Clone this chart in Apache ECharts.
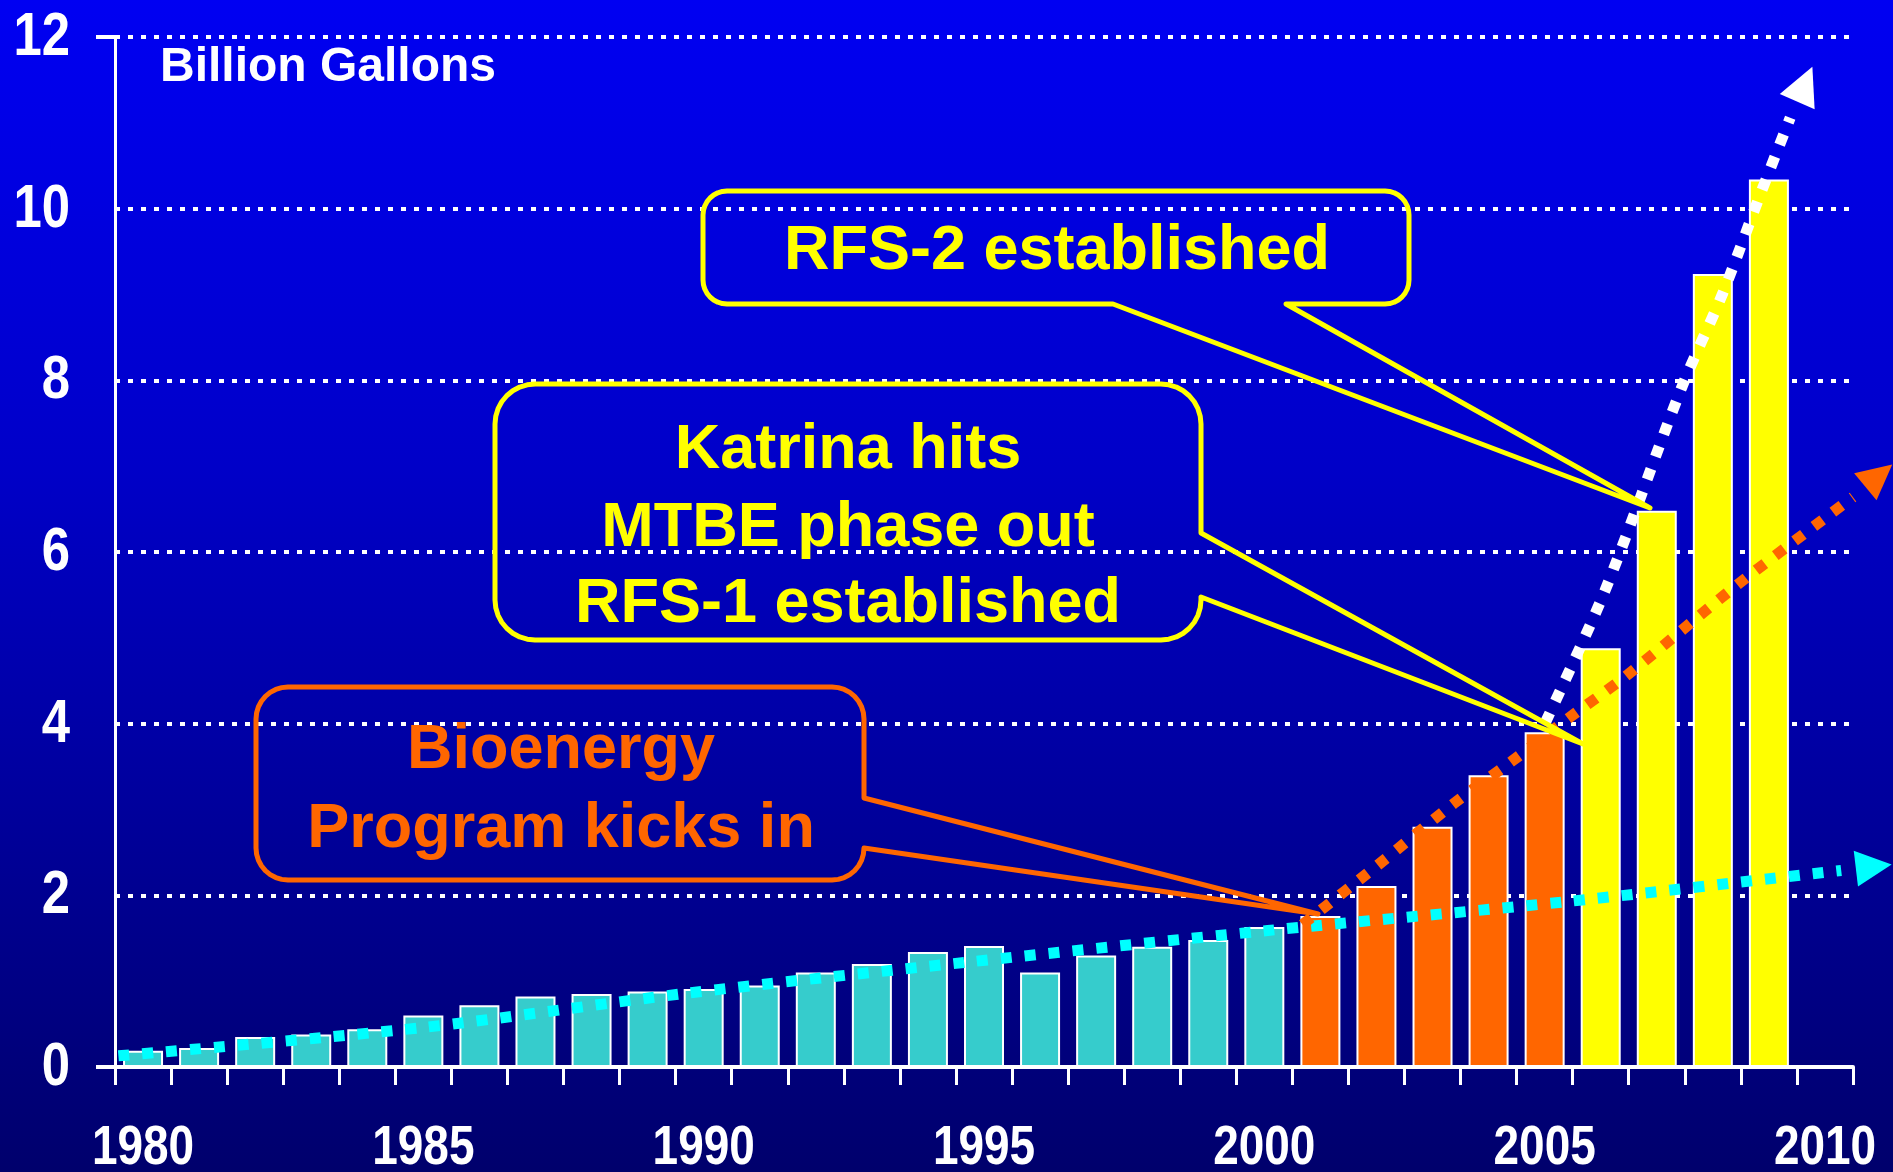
<!DOCTYPE html>
<html>
<head>
<meta charset="utf-8">
<script src="https://cdn.jsdelivr.net/npm/echarts@6/dist/echarts.min.js"></script>
<style>
  html, body { margin: 0; padding: 0; }
  #chart {
    width: 1893px;
    height: 1172px;
    background: linear-gradient(to bottom, #0000f2 0%, #0000c8 40%, #00006c 100%);
  }
</style>
</head>
<body>
<div id="chart"></div>
<script>
const years = [];
for (let y = 1980; y <= 2010; y++) years.push(String(y));

// US fuel ethanol production, billion gallons
const ethanol = [0.19, 0.22, 0.35, 0.38, 0.44, 0.60, 0.72, 0.82, 0.85, 0.88,
                 0.91, 0.95, 1.10, 1.20, 1.34, 1.41, 1.10, 1.30, 1.40, 1.48,
                 1.63, 1.76, 2.11, 2.80, 3.40, 3.90, 4.88, 6.48, 9.24, 10.34, null];

const bioenergyStart = 2001;
const rfsStart = 2006;

const yTicks = [0, 2, 4, 6, 8, 10, 12];
const xLabelYears = ['1980', '1985', '1990', '1995', '2000', '2005', '2010'];

// dotted trend arrows, in [band position, billion gallons]
const baseTrend = [[0.06, 0.13], [5.49, 0.46], [10.2, 0.86], [15.18, 1.22], [20.56, 1.59], [25.94, 1.93], [30.79, 2.29]];
const policyTrend = [[21.18, 1.66], [22.52, 2.35], [23.88, 3.07], [24.91, 3.56], [25.94, 4.07], [26.98, 4.57], [28.96, 5.63], [31.0, 6.64]];
const rfsTrend = [[25.51, 4.01], [26.57, 5.54], [27.94, 7.91], [28.68, 9.02], [29.36, 10.19], [29.88, 11.06]];
const arrowHeads = [[31.37, 2.335], [31.46, 6.89], [30.14, 11.45]];

const TEAL = '#36cccc';
const ORANGE = '#ff6600';
const YELLOW = '#ffff00';
const CYAN = '#00ffff';

const sans = "'Liberation Sans', Arial, sans-serif";
const NARROW = 0.82; // Arial Narrow is Arial squeezed to 82 %

function barColor(year) {
  const y = Number(year);
  if (y >= rfsStart) return YELLOW;
  if (y >= bioenergyStart) return ORANGE;
  return TEAL;
}

// rounded box with a speech-bubble tail
function bubble(x0, y0, x1, y1, r, side, t1, t2, apex) {
  const pts = [];
  const arc = (cx, cy, a0, a1) => {
    for (let i = 0; i <= 8; i++) {
      const a = a0 + (a1 - a0) * i / 8;
      pts.push([cx + r * Math.cos(a), cy + r * Math.sin(a)]);
    }
  };
  arc(x0 + r, y0 + r, Math.PI, 1.5 * Math.PI);
  arc(x1 - r, y0 + r, 1.5 * Math.PI, 2 * Math.PI);
  if (side === 'right') pts.push([x1, t1], apex, [x1, t2]);
  arc(x1 - r, y1 - r, 0, 0.5 * Math.PI);
  if (side === 'bottom') pts.push([t2, y1], apex, [t1, y1]);
  arc(x0 + r, y1 - r, 0.5 * Math.PI, Math.PI);
  return pts;
}

function label(text, x, y, color, size) {
  return {
    type: 'text', z: 110, x: x, y: y + 5,
    style: { text: text, fill: color, font: 'bold ' + size + 'px ' + sans, align: 'center', verticalAlign: 'middle' }
  };
}

function narrowText(text, x, y, size, align) {
  return {
    type: 'text', z: 60, x: x, y: y, scaleX: NARROW,
    style: { text: text, fill: '#fff', font: 'bold ' + size + 'px ' + sans, align: align, verticalAlign: 'middle' }
  };
}

const chart = echarts.init(document.getElementById('chart'));

function trend(data, color) {
  return {
    type: 'line', xAxisIndex: 1, data: data, smooth: 0.3, symbol: 'none', clip: false, z: 5,
    lineStyle: { color: color, width: 11, type: [11, 13], cap: 'butt' },
    silent: true
  };
}

const option = {
  backgroundColor: 'transparent',
  animation: false,
  grid: { left: 115, right: 40, top: 37, bottom: 105, outerBoundsMode: 'none', containLabel: false },
  xAxis: [{
    type: 'category',
    data: years,
    boundaryGap: true,
    axisLine: { lineStyle: { color: '#fff', width: 4 } },
    axisTick: { show: true, interval: 0, length: 18, lineStyle: { color: '#fff', width: 3 } },
    axisLabel: { show: false },
    splitLine: { show: false }
  }, {
    type: 'value', min: 0, max: years.length, show: false
  }],
  yAxis: {
    type: 'value',
    min: yTicks[0], max: yTicks[yTicks.length - 1], interval: 2,
    axisLine: { show: true, lineStyle: { color: '#fff', width: 3 } },
    axisTick: { show: false },
    axisLabel: { show: false },
    splitLine: { show: true, lineStyle: { color: '#fff', width: 4, type: [5, 8] } }
  },
  series: [
    {
      type: 'bar',
      barWidth: 40,
      z: 2,
      data: ethanol.map((v, i) => ({ value: v, itemStyle: { color: barColor(years[i]) } })),
      itemStyle: { borderColor: '#fff', borderWidth: 2 }
    },
    trend(baseTrend, CYAN),
    trend(policyTrend, ORANGE),
    trend(rfsTrend, '#ffffff')
  ]
};

chart.setOption(option);

// arrow heads pointing along the end of each trend
const trendEnds = [baseTrend, policyTrend, rfsTrend].map(t => t[t.length - 1]);
const arrowColors = [CYAN, ORANGE, '#ffffff'];
const arrowSizes = [36, 35, 38];
const arrowSeries = arrowHeads.map((pt, i) => {
  const a = chart.convertToPixel({ xAxisIndex: 1, yAxisIndex: 0 }, trendEnds[i]);
  const b = chart.convertToPixel({ xAxisIndex: 1, yAxisIndex: 0 }, pt);
  const ang = Math.atan2(a[1] - b[1], b[0] - a[0]) * 180 / Math.PI;
  return {
    type: 'scatter', xAxisIndex: 1, data: [pt], symbol: 'triangle', symbolSize: arrowSizes[i],
    symbolRotate: ang - 90, clip: false, z: 6, silent: true,
    itemStyle: { color: arrowColors[i], opacity: 1 }
  };
});

// axis labels in a narrow bold face, placed on the axis scales
const axisX = chart.convertToPixel({ yAxisIndex: 0 }, 0);
const axisLeft = chart.convertToPixel({ xAxisIndex: 1 }, 0);
const tickLabels = [];
yTicks.forEach(v => {
  const py = chart.convertToPixel({ yAxisIndex: 0 }, v);
  tickLabels.push(narrowText(String(v), axisLeft - 45, py + 1, 62, 'right'));
});
xLabelYears.forEach(yr => {
  const px = chart.convertToPixel({ xAxisIndex: 0 }, yr);
  tickLabels.push(narrowText(yr, px, axisX + 82, 56, 'center'));
});
const axisTop = chart.convertToPixel({ yAxisIndex: 0 }, yTicks[yTicks.length - 1]);

const graphic = tickLabels.concat([
  { type: 'line', z: 50, shape: { x1: axisLeft - 19, y1: axisTop, x2: axisLeft + 1, y2: axisTop }, style: { stroke: '#fff', lineWidth: 4 } },
  { type: 'line', z: 50, shape: { x1: axisLeft - 19, y1: axisX, x2: axisLeft + 1, y2: axisX }, style: { stroke: '#fff', lineWidth: 4 } },
  {
    type: 'text', z: 110, x: 160, y: 68,
    style: { text: 'Billion Gallons', fill: '#fff', font: 'bold 48px ' + sans, align: 'left', verticalAlign: 'middle' }
  },
  {
    type: 'polygon', z: 100,
    shape: { points: bubble(703, 191, 1409, 304, 24, 'bottom', 1113, 1286, [1650, 508]) },
    style: { fill: 'none', stroke: YELLOW, lineWidth: 5, lineJoin: 'round' }
  },
  label('RFS-2 established', 1057, 247, YELLOW, 63),
  {
    type: 'polygon', z: 100,
    shape: { points: bubble(495, 384, 1201, 640, 40, 'right', 533, 597, [1583, 744]) },
    style: { fill: 'none', stroke: YELLOW, lineWidth: 5, lineJoin: 'round' }
  },
  label('Katrina hits', 848, 446, YELLOW, 63),
  label('MTBE phase out', 848, 524, YELLOW, 63),
  label('RFS-1 established', 848, 600, YELLOW, 63),
  {
    type: 'polygon', z: 100,
    shape: { points: bubble(256, 687, 864, 880, 32, 'right', 798, 848, [1318, 914]) },
    style: { fill: 'none', stroke: ORANGE, lineWidth: 5, lineJoin: 'round' }
  },
  label('Bioenergy', 561, 746, ORANGE, 63),
  label('Program kicks in', 561, 825, ORANGE, 63)
]);

chart.setOption({ series: option.series.concat(arrowSeries), graphic: graphic });
</script>
</body>
</html>
